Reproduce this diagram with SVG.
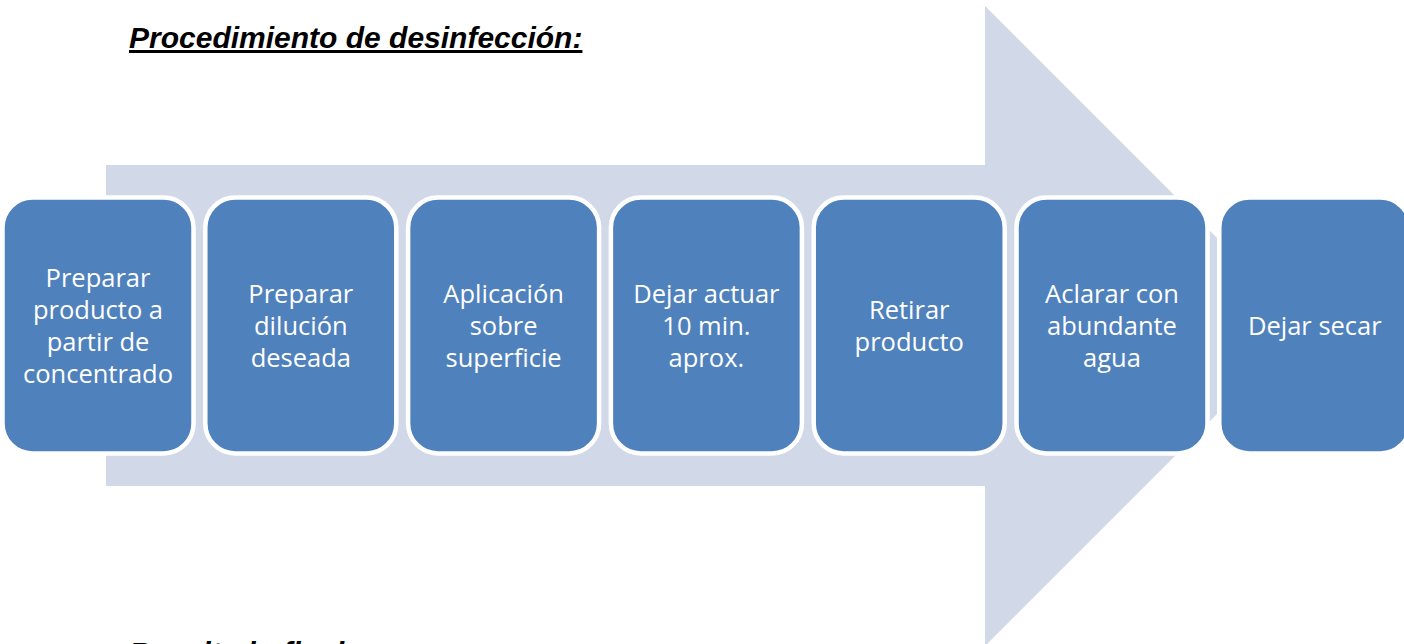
<svg xmlns="http://www.w3.org/2000/svg" width="1404" height="644" viewBox="0 0 1404 644">
<style>
.bg{fill:#ffffff}
.arrow{fill:#D1D8E7}
.box{fill:#4F81BD;stroke:#ffffff;stroke-width:4.5}
.lbl{font-family:"Open Sans","Liberation Sans",sans-serif;font-size:25.5px;fill:#ffffff;text-anchor:middle}
.hd{font-family:"Liberation Sans",Arial,sans-serif;font-size:30px;font-weight:bold;font-style:italic;text-decoration:underline;fill:#000000}
</style>
<rect class="bg" x="0" y="0" width="1404" height="644"/>
<g id="connectors">
<polygon class="arrow" points="106,165 985,165 985,6 1305,326 985,646 985,486 106,486"/>
</g>
<text class="hd" x="129" y="48">Procedimiento de desinfección:</text>
<g id="n1"><rect class="box" x="2.5" y="197.5" width="191" height="256" rx="30"/>
<text class="lbl" x="98" y="287">Preparar</text><text class="lbl" x="98" y="319">producto a</text><text class="lbl" x="98" y="351">partir de</text><text class="lbl" x="98" y="383">concentrado</text></g>
<g id="n2"><rect class="box" x="205.3" y="197.5" width="191" height="256" rx="30"/>
<text class="lbl" x="300.8" y="303">Preparar</text><text class="lbl" x="300.8" y="335">dilución</text><text class="lbl" x="300.8" y="367">deseada</text></g>
<g id="n3"><rect class="box" x="408.1" y="197.5" width="191" height="256" rx="30"/>
<text class="lbl" x="503.6" y="303">Aplicación</text><text class="lbl" x="503.6" y="335">sobre</text><text class="lbl" x="503.6" y="367">superficie</text></g>
<g id="n4"><rect class="box" x="610.9" y="197.5" width="191" height="256" rx="30"/>
<text class="lbl" x="706.4" y="303">Dejar actuar</text><text class="lbl" x="706.4" y="335">10 min.</text><text class="lbl" x="706.4" y="367">aprox.</text></g>
<g id="n5"><rect class="box" x="813.7" y="197.5" width="191" height="256" rx="30"/>
<text class="lbl" x="909.2" y="319">Retirar</text><text class="lbl" x="909.2" y="351">producto</text></g>
<g id="n6"><rect class="box" x="1016.5" y="197.5" width="191" height="256" rx="30"/>
<text class="lbl" x="1112" y="303">Aclarar con</text><text class="lbl" x="1112" y="335">abundante</text><text class="lbl" x="1112" y="367">agua</text></g>
<g id="n7"><rect class="box" x="1219.3" y="197.5" width="191" height="256" rx="30"/>
<text class="lbl" x="1314.8" y="335">Dejar secar</text></g>
<text class="hd" x="129" y="663">Resultado final:</text>
</svg>
